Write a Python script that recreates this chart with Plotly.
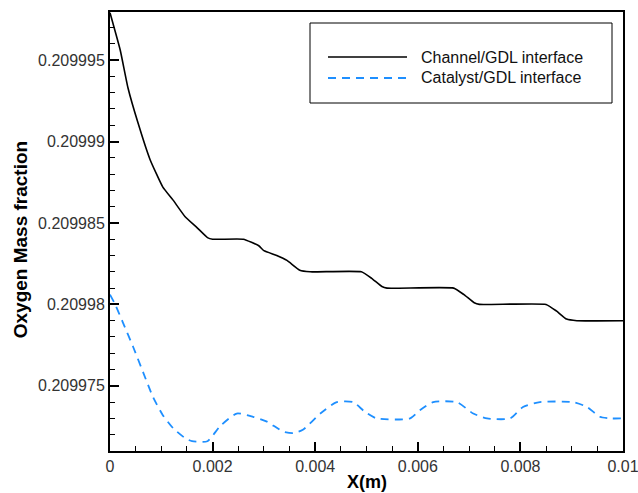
import plotly.graph_objects as go

# ---- data ----
chan_x = [0, 0.0002, 0.00035, 0.00055, 0.00078, 0.00103, 0.00123, 0.00146, 0.0017, 0.0019,
          0.0020, 0.0026, 0.0029, 0.0030, 0.00325, 0.00345, 0.0037, 0.0039, 0.0049, 0.0051,
          0.0053, 0.0054, 0.0067, 0.0069, 0.0071, 0.0072, 0.0085, 0.0087, 0.0089, 0.0091, 0.01]
chan_y = [0.2099979, 0.2099956, 0.2099933, 0.2099911, 0.2099889, 0.2099872, 0.2099864, 0.2099854,
          0.2099847, 0.2099841, 0.209984, 0.209984, 0.2099836, 0.2099833, 0.209983, 0.2099827,
          0.2099821, 0.209982, 0.209982, 0.2099816, 0.2099811, 0.209981, 0.209981, 0.2099806,
          0.2099801, 0.20998, 0.20998, 0.2099796, 0.2099791, 0.209979, 0.209979]

cat_x = [0, 0.0001, 0.00025, 0.00045, 0.00065, 0.00084, 0.00103, 0.00123, 0.00146, 0.0016,
         0.0019, 0.00214, 0.00247, 0.00279, 0.00306, 0.00337, 0.00357, 0.00376, 0.0041, 0.00442,
         0.00474, 0.00497, 0.0052, 0.00585, 0.00604, 0.0063, 0.00676, 0.00708, 0.00735, 0.0078,
         0.00805, 0.00838, 0.00903, 0.0093, 0.00955, 0.00975, 0.01]
cat_y = [0.2099806, 0.20998, 0.2099789, 0.2099774, 0.2099758, 0.2099743, 0.2099732, 0.2099724,
         0.2099718, 0.2099716, 0.2099716, 0.2099725, 0.2099733, 0.2099731, 0.2099728, 0.2099722,
         0.2099721, 0.2099723, 0.2099733, 0.209974, 0.209974, 0.2099734, 0.209973, 0.209973,
         0.2099735, 0.209974, 0.209974, 0.2099733, 0.209973, 0.209973, 0.2099737, 0.209974,
         0.209974, 0.2099737, 0.2099731, 0.209973, 0.209973]

series_names = ["Channel/GDL interface", "Catalyst/GDL interface"]

x_tickvals = [0, 0.002, 0.004, 0.006, 0.008, 0.01]
x_ticktext = ["0", "0.002", "0.004", "0.006", "0.008", "0.01"]
y_tickvals = [0.209975, 0.20998, 0.209985, 0.20999, 0.209995]
y_ticktext = ["0.209975", "0.20998", "0.209985", "0.20999", "0.209995"]

BLUE = "#1E8FFF"
FONT = "Liberation Sans, Arial, sans-serif"

fig = go.Figure()
fig.add_trace(go.Scatter(x=chan_x, y=chan_y, mode="lines", name=series_names[0],
                         line=dict(color="black", width=1.6, shape="spline", smoothing=0.4),
                         showlegend=False))
fig.add_trace(go.Scatter(x=cat_x, y=cat_y, mode="lines", name=series_names[1],
                         line=dict(color=BLUE, width=1.8, dash="8px,6px", shape="spline", smoothing=0.6),
                         showlegend=False))

L, R, T, B = 110, 15, 12, 42
W, H = 638, 493
pw, ph = W - L - R, H - T - B

def px(xp):
    return (xp - L) / pw

def py(yp):
    return (H - B - yp) / ph

# manual legend (paper coordinates)
shapes = [
    dict(type="rect", xref="paper", yref="paper", x0=px(310), x1=px(612), y0=py(103), y1=py(23),
         line=dict(color="black", width=1), fillcolor="white", layer="above"),
    dict(type="line", xref="paper", yref="paper", x0=px(328), x1=px(407), y0=py(57), y1=py(57),
         line=dict(color="black", width=1.6), layer="above"),
    dict(type="line", xref="paper", yref="paper", x0=px(328), x1=px(407), y0=py(78), y1=py(78),
         line=dict(color=BLUE, width=1.8, dash="8px,6px"), layer="above"),
]
annotations = [
    dict(text=series_names[0], xref="paper", yref="paper", x=px(419), y=py(57), xanchor="left",
         yanchor="middle", showarrow=False, font=dict(family=FONT, size=16, color="#111")),
    dict(text=series_names[1], xref="paper", yref="paper", x=px(419), y=py(78), xanchor="left",
         yanchor="middle", showarrow=False, font=dict(family=FONT, size=16, color="#111")),
    dict(text="<b>Oxygen Mass fraction</b>", xref="paper", yref="paper", x=(20 - L) / pw, y=0.48,
         xanchor="center", yanchor="middle", textangle=-90, showarrow=False,
         font=dict(family=FONT, size=19, color="black")),
    dict(text="<b>X(m)</b>", xref="paper", yref="paper", x=0.5, y=py(482),
         xanchor="center", yanchor="middle", showarrow=False,
         font=dict(family=FONT, size=18, color="black")),
]

fig.update_layout(
    width=W, height=H,
    margin=dict(l=L, r=R, t=T, b=B, autoexpand=False),
    paper_bgcolor="white", plot_bgcolor="white",
    font=dict(family=FONT, size=14, color="#222"),
    shapes=shapes, annotations=annotations,
    xaxis=dict(range=[0, 0.01000001], tickvals=x_tickvals, ticktext=x_ticktext,
               ticks="inside", ticklen=9, tickwidth=2, tickcolor="black",
               minor=dict(dtick=0.0005, tick0=0, ticks="inside", ticklen=5, tickwidth=1.2, tickcolor="black"),
               showline=True, linecolor="black", linewidth=2, mirror=True,
               showgrid=False, zeroline=False, automargin=False, ticklabeloverflow="allow",
               tickfont=dict(family=FONT, size=16, color="#333")),
    yaxis=dict(range=[0.209971, 0.20999795], tickvals=y_tickvals, ticktext=y_ticktext,
               ticks="inside", ticklen=9, tickwidth=2, tickcolor="black",
               minor=dict(dtick=0.000001, tick0=0.209975, ticks="inside", ticklen=5, tickwidth=1.2, tickcolor="black"),
               showline=True, linecolor="black", linewidth=2, mirror=True,
               showgrid=False, zeroline=False, automargin=False, ticklabeloverflow="allow",
               tickfont=dict(family=FONT, size=16, color="#333")),
)

fig.write_html("out.html")
